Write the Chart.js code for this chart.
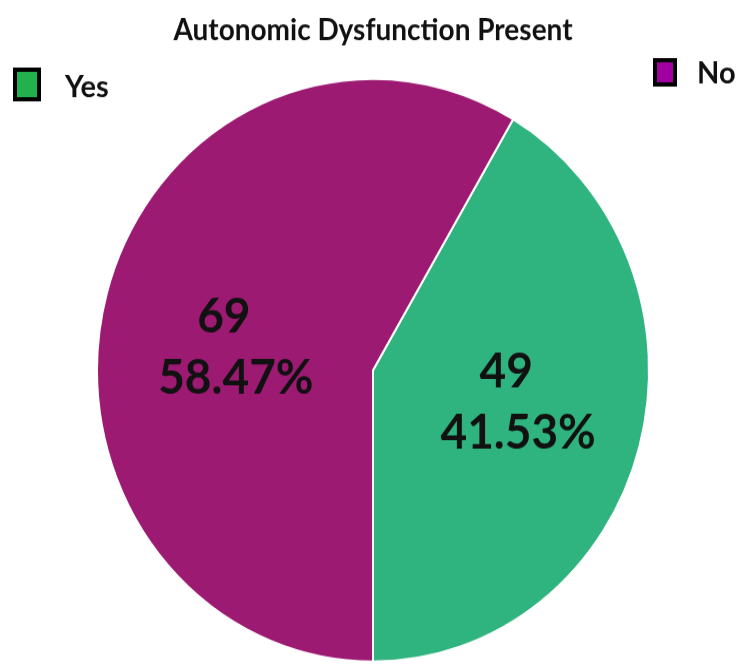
<!DOCTYPE html>
<html>
<head>
<meta charset="utf-8">
<script src="https://cdn.jsdelivr.net/npm/chart.js@4"></script>
<style>
  html { overflow: hidden; }
  body { margin: 0; padding: 0; background: #fff; height: 666px; }
  #wrap { width: 738px; height: 631px; transform: scaleY(1.0555); transform-origin: 0 0; }
</style>
</head>
<body>
<div id="wrap"><canvas id="dysChart" width="738" height="631"></canvas></div>
<script>
var categories = ['Yes', 'No'];
var counts = [49, 69];
var chartTitle = 'Autonomic Dysfunction Present';

var total = counts.reduce(function(a, b) { return a + b; }, 0);
var percents = counts.map(function(v) { return (v / total * 100).toFixed(2) + '%'; });

var sliceColors = ['#2fb37f', '#9c1a72'];
var legendColors = ['#22b14c', '#a000a0'];

// value + percent drawn inside each slice
var sliceLabels = {
  id: 'sliceLabels',
  afterDatasetsDraw: function(chart) {
    var ctx = chart.ctx;
    var meta = chart.getDatasetMeta(0);
    var nudge = [[8, -6], [-8, 15]];
    ctx.save();
    ctx.fillStyle = '#111';
    ctx.textAlign = 'center';
    ctx.textBaseline = 'middle';
    ctx.font = 'bold 46px Lato';
    meta.data.forEach(function(arc, i) {
      var p = arc.tooltipPosition();
      var x = p.x + nudge[i][0], y = p.y + nudge[i][1];
      ctx.fillText(String(counts[i]), x - 8, y - 29);
      ctx.fillText(percents[i], x + 4, y + 29);
    });
    ctx.restore();
  }
};

// legend items sit in the two top corners
var cornerLegend = {
  id: 'cornerLegend',
  afterDraw: function(chart) {
    var ctx = chart.ctx;
    var items = [
      { box: [15, 66, 24, 28], tx: 65, ty: 83 },
      { box: [655, 57, 20, 23], tx: 697, ty: 70 }
    ];
    ctx.save();
    ctx.font = 'bold 29px Lato';
    ctx.textBaseline = 'middle';
    ctx.textAlign = 'left';
    items.forEach(function(it, i) {
      var b = it.box;
      ctx.fillStyle = legendColors[i];
      ctx.fillRect(b[0], b[1], b[2], b[3]);
      ctx.lineWidth = 4;
      ctx.strokeStyle = '#000';
      ctx.strokeRect(b[0], b[1], b[2], b[3]);
      ctx.fillStyle = '#111';
      ctx.fillText(chart.data.labels[i], it.tx, it.ty);
    });
    ctx.restore();
  }
};

var ctx = document.getElementById('dysChart').getContext('2d');
var dysChart = new Chart(ctx, {
  type: 'pie',
  data: {
    labels: categories,
    datasets: [{
      data: counts,
      backgroundColor: sliceColors,
      borderColor: '#fff',
      borderWidth: 2
    }]
  },
  options: {
    responsive: false,
    animation: false,
    rotation: 180 - 360 * counts[0] / total,
    layout: { padding: { top: 0, bottom: 3, left: 96, right: 88 } },
    plugins: {
      legend: { display: false },
      tooltip: { enabled: false },
      title: {
        display: true,
        text: chartTitle,
        color: '#111',
        font: { family: 'Lato', size: 28, weight: 'bold' },
        padding: { top: 12, bottom: 28 }
      }
    }
  },
  plugins: [sliceLabels, cornerLegend]
});
</script>
</body>
</html>
